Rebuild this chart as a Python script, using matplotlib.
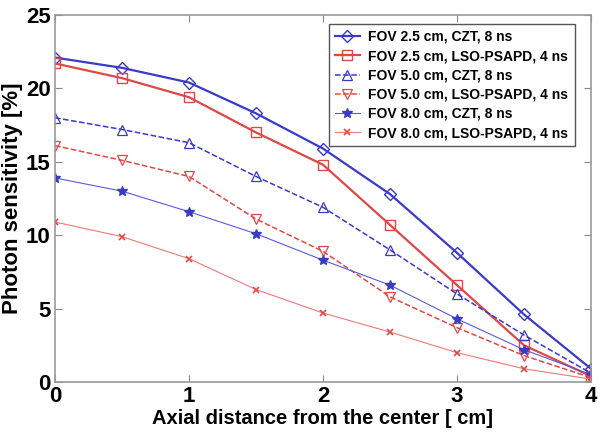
import numpy as np
import matplotlib.pyplot as plt

plt.rcParams['font.family'] = ['Liberation Sans', 'DejaVu Sans']
plt.rcParams['font.weight'] = 'bold'

# axial distance [cm]
x = [0, 0.5, 1, 1.5, 2, 2.5, 3, 3.5, 4]

fov25_czt = [22.1, 21.4, 20.4, 18.3, 15.9, 12.8, 8.8, 4.6, 0.9]
fov25_lso = [21.7, 20.7, 19.4, 17.0, 14.8, 10.7, 6.6, 2.5, 0.4]
fov50_czt = [18.0, 17.2, 16.3, 14.0, 11.9, 9.0, 6.0, 3.2, 0.6]
fov50_lso = [16.1, 15.1, 14.0, 11.1, 8.9, 5.8, 3.7, 1.8, 0.3]
fov80_czt = [13.9, 13.0, 11.6, 10.1, 8.3, 6.6, 4.3, 2.2, 0.5]
fov80_lso = [10.9, 9.9, 8.4, 6.3, 4.7, 3.4, 2.0, 0.9, 0.2]

labels = [
    "FOV 2.5 cm, CZT, 8 ns",
    "FOV 2.5 cm, LSO-PSAPD, 4 ns",
    "FOV 5.0 cm, CZT, 8 ns",
    "FOV 5.0 cm, LSO-PSAPD, 4 ns",
    "FOV 8.0 cm, CZT, 8 ns",
    "FOV 8.0 cm, LSO-PSAPD, 4 ns",
]

blue = "#3a3ac8"
red = "#e04848"

fig = plt.figure(figsize=(6, 4.4), dpi=100)
ax = fig.add_axes([55 / 600, 1 - 382 / 440, 536 / 600, 367 / 440])

ax.plot(x, fov25_czt, color=blue, lw=1.6, marker="D", ms=6, mfc="none", mew=1.0, label=labels[0])
ax.plot(x, fov25_lso, color=red, lw=1.6, marker="s", ms=6.5, mfc="none", mew=1.0, label=labels[1])
ax.plot(x, fov50_czt, color=blue, lw=1.1, ls="--", marker="^", ms=7, mfc="none", mew=0.9, label=labels[2])
ax.plot(x, fov50_lso, color=red, lw=1.1, ls="--", marker="v", ms=7, mfc="none", mew=0.9, label=labels[3])
ax.plot(x, fov80_czt, color="#5a5ae0", lw=0.8, marker="*", ms=7, mfc=blue, mec=blue, label=labels[4])
ax.plot(x, fov80_lso, color="#f07878", lw=0.8, marker="x", ms=5, mec=red, mew=1.2, label=labels[5])

ax.set_xlim(0, 4)
ax.set_ylim(0, 25)
ax.set_xticks([0, 1, 2, 3, 4])
ax.set_yticks([0, 5, 10, 15, 20, 25])
ax.tick_params(direction="in", top=True, right=True, labelsize=16, color="#888888", length=5, pad=3)
for s in ax.spines.values():
    s.set_color("#999999")
    s.set_linewidth(1.2)

ax.set_xlabel("Axial distance from the center [ cm]", fontsize=14.5, fontweight="bold", labelpad=1)
ax.set_ylabel("Photon sensitivity [%]", fontsize=16, fontweight="bold", labelpad=2)

leg = ax.legend(loc="upper right", bbox_to_anchor=(0.977, 0.988), fontsize=10, handlelength=1.8,
                handletextpad=0.6, borderpad=0.45, labelspacing=0.38, fancybox=False,
                framealpha=1, borderaxespad=0.3)
leg.get_frame().set_edgecolor("#555555")
leg.get_frame().set_linewidth(1.0)

plt.savefig("out.png", dpi=100)
